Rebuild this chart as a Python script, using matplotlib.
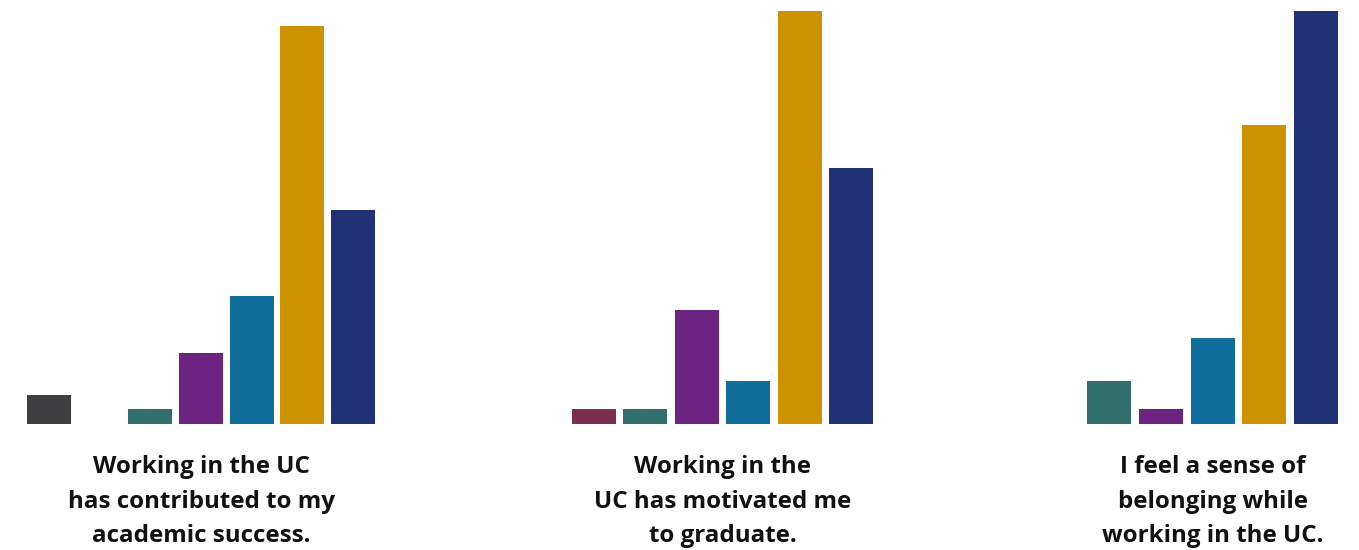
import matplotlib
matplotlib.use("Agg")
import matplotlib.pyplot as plt

# Response categories (7-point scale) and their colours
categories = ["1", "2", "3", "4", "5", "6", "7"]
colors = ["#3f3f41", "#7a2e50", "#316e6c", "#6d2480", "#0f6e9b", "#cc9200", "#203275"]

# Counts of respondents for each statement
academic_success = [2, 0, 1, 5, 9, 28, 15]
motivated_graduate = [0, 1, 1, 8, 3, 29, 18]
sense_of_belonging = [0, 0, 3, 1, 6, 21, 29]

statements = [
    ["Working in the UC", "has contributed to my", "academic success."],
    ["Working in the", "UC has motivated me", "to graduate."],
    ["I feel a sense of", "belonging while", "working in the UC."],
]
series = [academic_success, motivated_graduate, sense_of_belonging]

W, H = 1359, 550
fig = plt.figure(figsize=(W / 100, H / 100), dpi=100)

bar_px = 44.0         # bar width in px
baseline = 423.7      # px from top
unit = 14.22          # px per respondent
first_edge = [27.0, 520.6, 983.5]   # left edge of first category slot, px
pitches = [50.67, 51.4, 51.75]      # px per category slot
line_y = [473, 507.5, 542]

for edge, pitch, vals, lines in zip(first_edge, pitches, series, statements):
    left = edge + bar_px / 2 - pitch / 2
    ax = fig.add_axes([left / W, (H - baseline) / H, 7 * pitch / W, baseline / H])
    x = list(range(len(categories)))
    ax.bar(x, vals, width=bar_px / pitch, color=colors)
    ax.set_xlim(-0.5, 6.5)
    ax.set_ylim(0, baseline / unit)
    ax.axis("off")

    # centre the caption under the bars that are present
    present = [i for i, v in enumerate(vals) if v > 0]
    cx = (present[0] + present[-1]) / 2
    cx_fig = (left + (cx + 0.5) * pitch) / W
    for ly, txt in zip(line_y, lines):
        fig.text(cx_fig, (H - ly) / H, txt, ha="center", va="baseline",
                 fontsize=17.4, fontweight="bold", family="Open Sans", color="#111111")

fig.savefig("out.png", dpi=100, facecolor="white")
